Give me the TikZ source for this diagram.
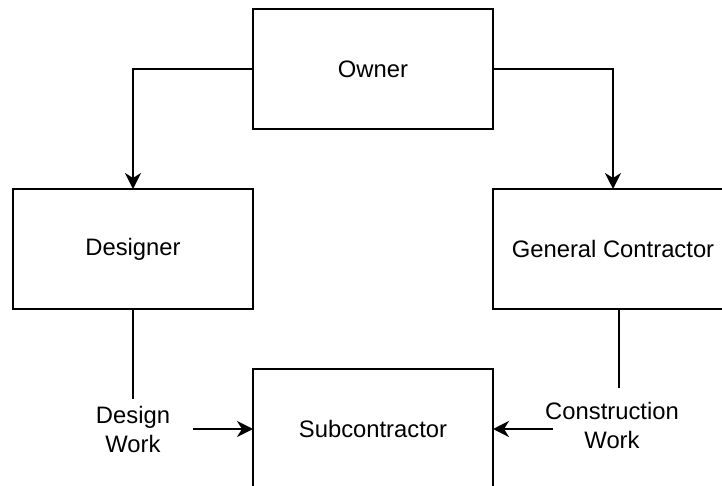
\documentclass[tikz,border=0pt]{standalone}
\usepackage{fontspec}
\setmainfont{Liberation Sans}
\usetikzlibrary{arrows.meta}
\begin{document}
\begin{tikzpicture}[x=0.5pt,y=-0.5pt,
  box/.style={draw=black,line width=1pt,minimum width=120pt,minimum height=60pt,inner sep=0pt,outer sep=0pt},
  lbl/.style={align=center,inner sep=0pt},
  line/.style={draw=black,line width=1pt},
  arr/.style={line,-{Stealth[length=8pt,width=8pt,inset=2.5pt]}},
  every node/.style={font=\fontsize{11.9}{14.5}\selectfont}]
\useasboundingbox (0,0) rectangle (722,486);
\clip (0,0) rectangle (722,486);
\node[box] (owner) at (373,69) {Owner};
\node[box] (designer) at (133,249) {Designer};
\node[box] (gc) at (613,249) {General Contractor};
\node[box] (sub) at (373,429) {Subcontractor};
\node[lbl] (dw) at (133,429.5) {Design\\Work};
\node[lbl] (cw) at (612,425.5) {Construction\\Work};
\coordinate (dwtop) at (133,399);
\coordinate (cwtop) at (619,388);
\coordinate (gcbot) at (619,309);
\coordinate (dwarr) at (193,429);
\coordinate (cwarr) at (553,429);
\draw[arr] (owner.west) -| (designer.north);
\draw[arr] (owner.east) -| (gc.north);
\draw[line] (designer.south) -- (dwtop);
\draw[line] (gcbot) -- (cwtop);
\draw[arr] (dwarr) -- (sub.west);
\draw[arr] (cwarr) -- (sub.east);
\end{tikzpicture}
\end{document}
